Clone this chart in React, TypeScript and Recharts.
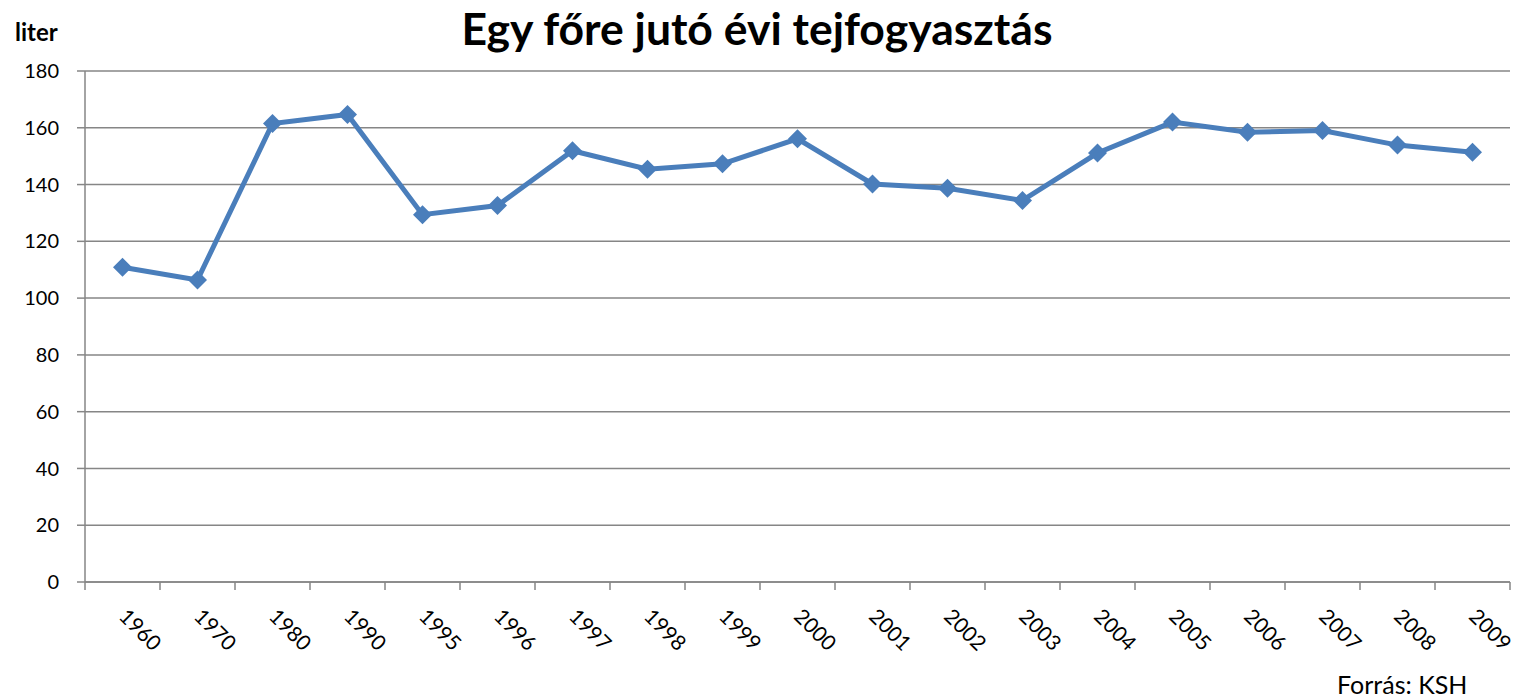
import React from 'react';
import { LineChart, Line, XAxis, YAxis, CartesianGrid } from 'recharts';

const years = ['1960', '1970', '1980', '1990', '1995', '1996', '1997', '1998', '1999', '2000', '2001', '2002', '2003', '2004', '2005', '2006', '2007', '2008', '2009'];
const consumption = [110.9, 106.4, 161.5, 164.7, 129.4, 132.6, 151.9, 145.4, 147.3, 156.1, 140.2, 138.7, 134.4, 151.1, 162.0, 158.4, 159.0, 153.9, 151.4];
const yTicks = [0, 20, 40, 60, 80, 100, 120, 140, 160, 180];
const boundaryTicks = years.map((_, i) => i).concat([years.length]);

const title = 'Egy főre jutó évi tejfogyasztás';
const unitLabel = 'liter';
const sourceLabel = 'Forrás: KSH';

const data = years.map((year, i) => ({ year, pos: i + 0.5, value: consumption[i] }));

const LINE_COLOR = '#4a7ebb';
const AXIS_COLOR = '#868686';
const FONT = 'Lato, "Open Sans", sans-serif';

const Diamond = (props: any) => {
  const { cx, cy, index } = props;
  if (cx == null || cy == null) return null;
  const r = 9.5;
  return (
    <path
      key={`d-${index}`}
      d={`M${cx},${cy - r} L${cx + r},${cy} L${cx},${cy + r} L${cx - r},${cy} Z`}
      fill={LINE_COLOR}
    />
  );
};

const YearTick = (props: any) => {
  const { x, y, payload } = props;
  return (
    <g transform={`translate(${x + 6},${y + 17})`}>
      <text
        x={0}
        y={0}
        dy="0.72em"
        transform="rotate(45)"
        textAnchor="start"
        fill="#000"
        fontSize={21}
        fontFamily={FONT}
      >
        {payload.value}
      </text>
    </g>
  );
};

export default function App() {
  return (
    <div style={{ position: 'absolute', left: 0, top: 0, width: 1519, height: 700, background: '#fff' }}>
      <LineChart
        width={1519}
        height={700}
        data={data}
        margin={{ top: 71, right: 9, left: 25, bottom: 0 }}
      >
        <CartesianGrid xAxisId="cat" vertical={false} stroke={AXIS_COLOR} strokeWidth={1.5} />
        <XAxis
          xAxisId="bounds"
          dataKey="pos"
          type="number"
          domain={[0, years.length]}
          ticks={boundaryTicks}
          allowDataOverflow
          tickFormatter={() => ''}
          tickSize={8}
          height={8}
          axisLine={{ stroke: AXIS_COLOR, strokeWidth: 1.5 }}
          tickLine={{ stroke: AXIS_COLOR, strokeWidth: 1.5 }}
        />
        <XAxis
          xAxisId="cat"
          dataKey="year"
          type="category"
          scale="band"
          interval={0}
          height={110}
          tickSize={0}
          tickMargin={0}
          axisLine={false}
          tickLine={false}
          tick={<YearTick />}
        />
        <YAxis
          domain={[0, 180]}
          ticks={yTicks}
          width={60}
          tickSize={8}
          tickMargin={18}
          axisLine={{ stroke: AXIS_COLOR, strokeWidth: 1.5 }}
          tickLine={{ stroke: AXIS_COLOR, strokeWidth: 1.5 }}
          tick={{ fill: '#000', fontSize: 20, fontFamily: FONT }}
        />
        <Line
          xAxisId="bounds"
          dataKey="value"
          type="linear"
          stroke="none"
          dot={false}
          activeDot={false}
          isAnimationActive={false}
        />
        <Line
          xAxisId="cat"
          dataKey="value"
          type="linear"
          stroke={LINE_COLOR}
          strokeWidth={5}
          dot={<Diamond />}
          activeDot={false}
          isAnimationActive={false}
        />
      </LineChart>
      <svg
        width={1519}
        height={700}
        style={{ position: 'absolute', left: 0, top: 0, pointerEvents: 'none' }}
      >
        <text x={757} y={45} textAnchor="middle" fontFamily={FONT} fontWeight={700} fontSize={44.5} fill="#000">
          {title}
        </text>
        <text x={15} y={41} textAnchor="start" fontFamily={FONT} fontWeight={700} fontSize={24} fill="#000">
          {unitLabel}
        </text>
        <text x={1337} y={694} textAnchor="start" fontFamily={FONT} fontSize={25} fill="#000">
          {sourceLabel}
        </text>
      </svg>
    </div>
  );
}
